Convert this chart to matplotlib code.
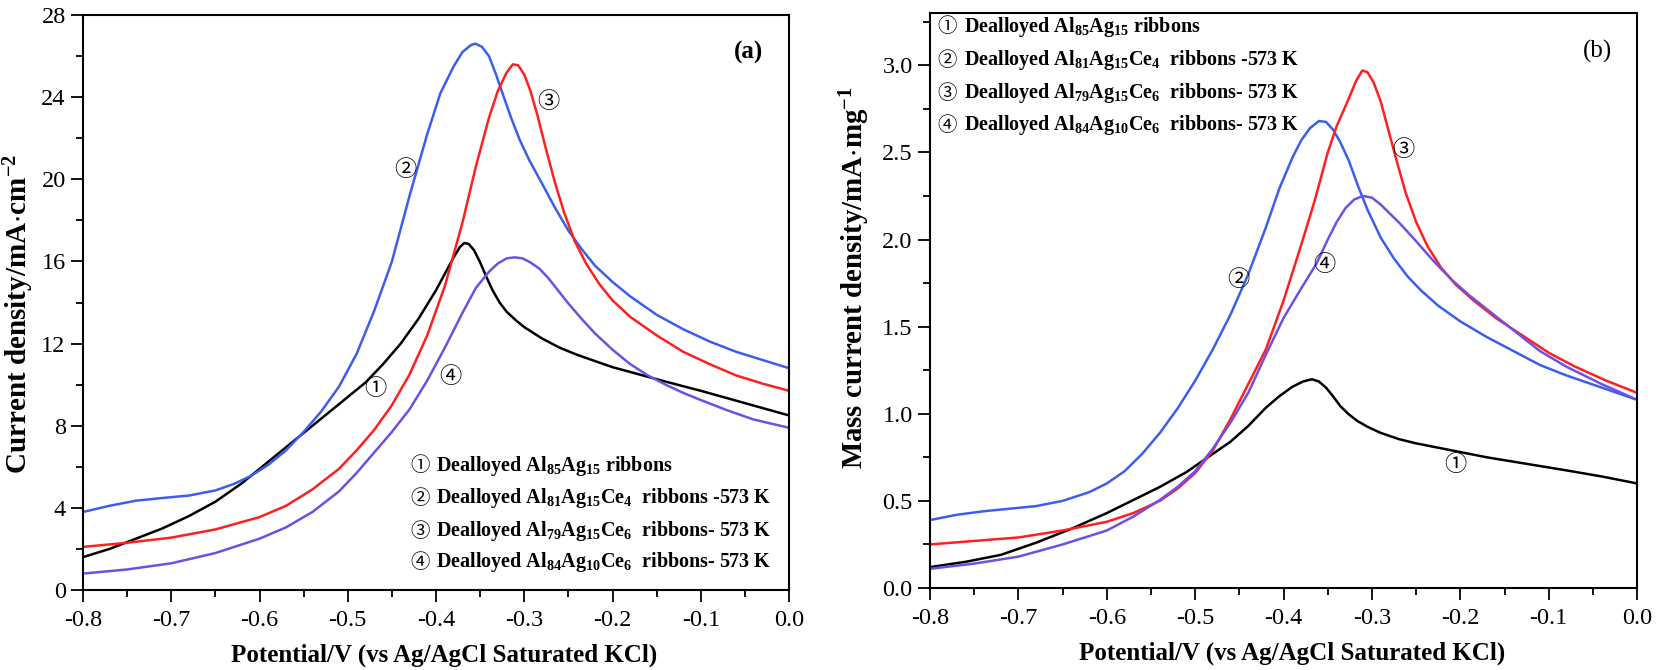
import matplotlib
matplotlib.use('Agg')
import matplotlib.pyplot as plt
from matplotlib.ticker import MultipleLocator, FormatStrFormatter

plt.rcParams['font.family'] = ['Liberation Serif', 'DejaVu Serif']
plt.rcParams['mathtext.default'] = 'regular'
plt.rcParams['axes.unicode_minus'] = False

# ---- panel (a): current density, mA/cm2 ----
a1_x = [-0.8, -0.77, -0.74, -0.71, -0.68, -0.65, -0.62, -0.6, -0.58, -0.56, -0.54, -0.52, -0.5, -0.48,
        -0.46, -0.44, -0.42, -0.4, -0.39, -0.38, -0.373, -0.368, -0.363, -0.357, -0.35, -0.343, -0.336,
        -0.328, -0.32, -0.31, -0.3, -0.28, -0.26, -0.24, -0.22, -0.2, -0.17, -0.14, -0.1, -0.05, 0.0]
a1_y = [1.6, 2.0, 2.5, 3.0, 3.6, 4.3, 5.2, 5.9, 6.6, 7.3, 8.0, 8.7, 9.4, 10.1,
        11.0, 12.0, 13.2, 14.6, 15.4, 16.2, 16.7, 16.9, 16.85, 16.55, 15.95, 15.25, 14.6,
        14.0, 13.55, 13.15, 12.8, 12.25, 11.8, 11.45, 11.15, 10.85, 10.5, 10.15, 9.7, 9.1, 8.5]

a2_x = [-0.8, -0.77, -0.74, -0.71, -0.68, -0.65, -0.63, -0.61, -0.59, -0.57, -0.55, -0.53, -0.51, -0.49,
        -0.47, -0.45, -0.43, -0.41, -0.395, -0.38, -0.37, -0.36, -0.355, -0.348, -0.34, -0.332, -0.324,
        -0.315, -0.305, -0.294, -0.28, -0.265, -0.25, -0.235, -0.22, -0.2, -0.18, -0.15, -0.12, -0.09,
        -0.06, -0.03, 0.0]
a2_y = [3.8, 4.1, 4.35, 4.48, 4.6, 4.85, 5.15, 5.55, 6.1, 6.8, 7.7, 8.7, 9.9, 11.5,
        13.6, 16.0, 19.2, 22.2, 24.2, 25.5, 26.2, 26.55, 26.6, 26.45, 26.0, 25.1, 24.1,
        23.0, 21.9, 20.9, 19.8, 18.6, 17.5, 16.6, 15.8, 15.0, 14.3, 13.4, 12.7, 12.1,
        11.6, 11.2, 10.8]

a3_x = [-0.8, -0.75, -0.7, -0.65, -0.6, -0.57, -0.54, -0.51, -0.49, -0.47, -0.45, -0.43, -0.41, -0.39,
        -0.37, -0.355, -0.34, -0.33, -0.32, -0.313, -0.307, -0.3, -0.293, -0.285, -0.275, -0.265, -0.255,
        -0.243, -0.23, -0.215, -0.2, -0.18, -0.15, -0.12, -0.09, -0.06, -0.03, 0.0]
a3_y = [2.1, 2.3, 2.55, 2.95, 3.55, 4.1, 4.9, 5.9, 6.8, 7.8, 9.0, 10.5, 12.4, 14.8,
        17.9, 20.6, 23.0, 24.3, 25.2, 25.6, 25.55, 25.1, 24.3, 23.1, 21.4, 19.8, 18.4,
        17.0, 15.9, 14.9, 14.1, 13.3, 12.4, 11.6, 11.0, 10.45, 10.05, 9.7]

a4_x = [-0.8, -0.75, -0.7, -0.65, -0.6, -0.57, -0.54, -0.51, -0.49, -0.47, -0.45, -0.43, -0.41, -0.39,
        -0.37, -0.355, -0.34, -0.33, -0.32, -0.311, -0.302, -0.293, -0.283, -0.273, -0.262, -0.25, -0.235,
        -0.22, -0.2, -0.18, -0.16, -0.14, -0.12, -0.1, -0.07, -0.04, 0.0]
a4_y = [0.8, 1.0, 1.3, 1.8, 2.5, 3.05, 3.8, 4.8, 5.7, 6.7, 7.7, 8.8, 10.2, 11.8,
        13.5, 14.7, 15.5, 15.9, 16.15, 16.2, 16.15, 15.95, 15.65, 15.2, 14.6, 13.95, 13.2,
        12.5, 11.7, 11.0, 10.45, 10.0, 9.6, 9.25, 8.75, 8.3, 7.9]

# ---- panel (b): mass current density, mA/mg ----
b1_x = [-0.8, -0.76, -0.72, -0.68, -0.64, -0.6, -0.57, -0.54, -0.51, -0.48, -0.46, -0.44, -0.42, -0.405,
        -0.39, -0.378, -0.368, -0.36, -0.352, -0.344, -0.336, -0.327, -0.317, -0.305, -0.29, -0.27, -0.25,
        -0.23, -0.2, -0.17, -0.14, -0.11, -0.08, -0.04, 0.0]
b1_y = [0.12, 0.15, 0.19, 0.26, 0.34, 0.43, 0.505, 0.58, 0.665, 0.77, 0.84, 0.93, 1.035, 1.1,
        1.155, 1.185, 1.198, 1.185, 1.15, 1.1, 1.045, 1.0, 0.96, 0.925, 0.89, 0.855, 0.83,
        0.81, 0.78, 0.75, 0.725, 0.7, 0.675, 0.64, 0.60]

b2_x = [-0.8, -0.77, -0.74, -0.71, -0.68, -0.65, -0.62, -0.6, -0.58, -0.56, -0.54, -0.52, -0.5, -0.48,
        -0.46, -0.44, -0.42, -0.405, -0.39, -0.38, -0.37, -0.36, -0.352, -0.344, -0.336, -0.326, -0.316,
        -0.305, -0.29, -0.275, -0.26, -0.245, -0.225, -0.2, -0.17, -0.14, -0.11, -0.08, -0.04, 0.0]
b2_y = [0.39, 0.42, 0.44, 0.455, 0.47, 0.5, 0.55, 0.6, 0.67, 0.77, 0.89, 1.03, 1.19, 1.37,
        1.57, 1.8, 2.07, 2.29, 2.47, 2.57, 2.64, 2.68, 2.675, 2.63, 2.56, 2.45, 2.31,
        2.17, 2.01, 1.89, 1.79, 1.71, 1.62, 1.53, 1.44, 1.36, 1.28, 1.22, 1.15, 1.08]

b3_x = [-0.8, -0.75, -0.7, -0.65, -0.6, -0.57, -0.54, -0.52, -0.5, -0.48, -0.46, -0.44, -0.42, -0.4,
        -0.38, -0.365, -0.35, -0.34, -0.327, -0.318, -0.311, -0.305, -0.298, -0.29, -0.281, -0.272, -0.262,
        -0.25, -0.237, -0.222, -0.205, -0.185, -0.16, -0.13, -0.1, -0.07, -0.035, 0.0]
b3_y = [0.25, 0.27, 0.29, 0.33, 0.38, 0.43, 0.5, 0.57, 0.66, 0.79, 0.97, 1.17, 1.37, 1.65,
        1.97, 2.22, 2.5, 2.65, 2.8, 2.91, 2.97, 2.96, 2.9, 2.79, 2.62, 2.45, 2.27,
        2.1, 1.96, 1.84, 1.74, 1.65, 1.55, 1.45, 1.35, 1.27, 1.19, 1.12]

b4_x = [-0.8, -0.75, -0.7, -0.65, -0.6, -0.57, -0.54, -0.52, -0.5, -0.48, -0.46, -0.44, -0.42, -0.4,
        -0.38, -0.363, -0.35, -0.34, -0.33, -0.32, -0.31, -0.3, -0.29, -0.28, -0.268, -0.25, -0.231,
        -0.21, -0.19, -0.17, -0.14, -0.11, -0.08, -0.04, 0.0]
b4_y = [0.11, 0.14, 0.18, 0.25, 0.33, 0.41, 0.505, 0.58, 0.67, 0.8, 0.95, 1.12, 1.34, 1.55,
        1.72, 1.86, 2.0, 2.1, 2.18, 2.23, 2.25, 2.24, 2.2, 2.15, 2.09, 1.99, 1.88,
        1.77, 1.68, 1.6, 1.48, 1.36, 1.27, 1.17, 1.08]

legend_labels = [
    r'Dealloyed Al$_{85}$Ag$_{15}$ ribbons',
    r'Dealloyed Al$_{81}$Ag$_{15}$Ce$_{4}$  ribbons -573 K',
    r'Dealloyed Al$_{79}$Ag$_{15}$Ce$_{6}$  ribbons- 573 K',
    r'Dealloyed Al$_{84}$Ag$_{10}$Ce$_{6}$  ribbons- 573 K',
]
circled = ['①', '②', '③', '④']
colors = ['black', '#3b5ef0', '#ff1f1f', '#6f4fe6']

fig = plt.figure(figsize=(16.57, 6.70), dpi=100)
ax_a = fig.add_axes([0.0501, 0.1194, 0.4261, 0.8582])
ax_b = fig.add_axes([0.5613, 0.1224, 0.4267, 0.8582])

for x, y, c in zip([a1_x, a2_x, a3_x, a4_x], [a1_y, a2_y, a3_y, a4_y], colors):
    ax_a.plot(x, y, color=c, lw=1.8)
for x, y, c in zip([b1_x, b2_x, b3_x, b4_x], [b1_y, b2_y, b3_y, b4_y], colors):
    ax_b.plot(x, y, color=c, lw=1.8)

circ_font = ['Noto Sans CJK SC', 'DejaVu Sans']

# legends written as text, like the original
leg_a_y = [6.04, 4.48, 2.87, 1.36]
for y, num, lab in zip(leg_a_y, circled, legend_labels):
    ax_a.text(-0.4295, y, num, family=circ_font, fontsize=14, va='center', ha='left')
    ax_a.text(-0.400, y, lab, fontsize=14.5, fontweight='bold', va='center', ha='left')
leg_b_y = [3.22, 3.03, 2.84, 2.655]
for y, num, lab in zip(leg_b_y, circled, legend_labels):
    ax_b.text(-0.792, y, num, family=circ_font, fontsize=14, va='center', ha='left')
    ax_b.text(-0.7615, y, lab, fontsize=14.5, fontweight='bold', va='center', ha='left')

# curve markers
mark_a = [(-0.469, 9.8), (-0.435, 20.5), (-0.273, 23.8), (-0.384, 10.4)]
mark_b = [(-0.206, 0.706), (-0.451, 1.768), (-0.264, 2.514), (-0.354, 1.858)]
for (x, y), num in zip(mark_a, circled):
    ax_a.text(x, y, num, family=circ_font, fontsize=16, ha='center', va='center')
for (x, y), num in zip(mark_b, circled):
    ax_b.text(x, y, num, family=circ_font, fontsize=16, ha='center', va='center')

ax_a.text(-0.0465, 26.2, '(a)', fontsize=18, fontweight='bold', ha='center', va='center')
ax_b.text(-0.0443, 3.077, '(b)', fontsize=18, ha='center', va='center')

ax_a.set_ylim(0, 28)
ax_a.yaxis.set_major_locator(MultipleLocator(4))
ax_a.yaxis.set_minor_locator(MultipleLocator(2))
ax_a.set_ylabel(r'Current density/mA$\cdot$cm$^{-2}$', fontsize=21, fontweight='bold')
ax_a.yaxis.set_label_coords(-0.066, 0.48)

ax_b.set_ylim(0, 3.3)
ax_b.yaxis.set_major_locator(MultipleLocator(0.5))
ax_b.yaxis.set_minor_locator(MultipleLocator(0.25))
ax_b.yaxis.set_major_formatter(FormatStrFormatter('%.1f'))
ax_b.set_ylabel(r'Mass current density/mA$\cdot$mg$^{-1}$', fontsize=20.8, fontweight='bold')
ax_b.yaxis.set_label_coords(-0.082, 0.54)

for ax in (ax_a, ax_b):
    ax.set_xlim(-0.8, 0.0)
    ax.xaxis.set_major_locator(MultipleLocator(0.1))
    ax.xaxis.set_minor_locator(MultipleLocator(0.05))
    ax.xaxis.set_major_formatter(FormatStrFormatter('%.1f'))
    ax.set_xlabel('Potential/V (vs Ag/AgCl Saturated KCl)', fontsize=18, fontweight='bold', labelpad=9)
    ax.xaxis.label.set_x(0.512)
    ax.tick_params(which='major', direction='out', length=8.5, width=1.3, labelsize=17.5)
    ax.tick_params(which='minor', direction='out', length=5, width=1.3)
    ax.tick_params(axis='x', which='major', pad=6)
    ax.tick_params(axis='y', which='major', pad=4)
    for s in ax.spines.values():
        s.set_linewidth(1.5)

fig.savefig('out.png', dpi=100)
